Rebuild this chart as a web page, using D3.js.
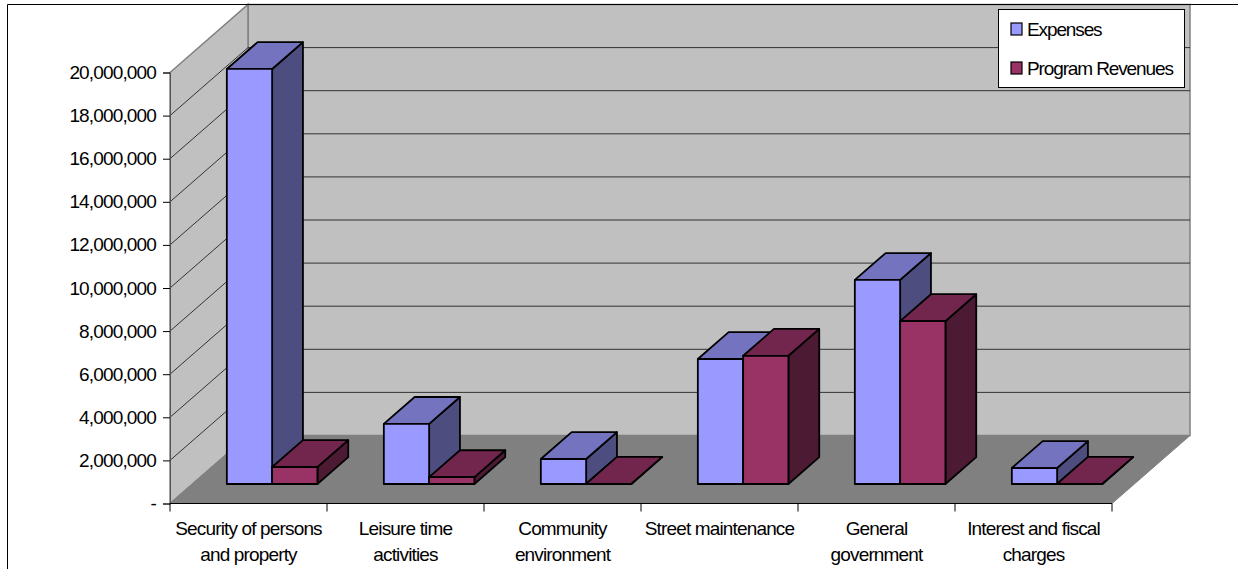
<!DOCTYPE html>
<html>
<head>
<meta charset="utf-8">
<script src="https://cdn.jsdelivr.net/npm/d3@7/dist/d3.min.js"></script>
<style>
html,body{margin:0;padding:0;background:#fff;}
svg{display:block;}
text{font-family:"Liberation Sans",Arial,sans-serif;font-size:19px;fill:#000;letter-spacing:-0.85px;}
.legend-label{letter-spacing:-1.12px;}
</style>
</head>
<body>
<svg id="chart" width="1238" height="569"></svg>
<script>
// Program cost against program revenue, by government function
const categories = [
  ["Security of persons", "and property"],
  ["Leisure time", "activities"],
  ["Community", "environment"],
  ["Street maintenance"],
  ["General", "government"],
  ["Interest and fiscal", "charges"]
];
const expenses = [19260000, 2790000, 1160000, 5800000, 9470000, 740000];
const programRevenues = [790000, 320000, 10000, 5950000, 7560000, 10000];
const seriesNames = ["Expenses", "Program Revenues"];
const yTicks = [0, 2e6, 4e6, 6e6, 8e6, 10e6, 12e6, 14e6, 16e6, 18e6, 20e6];

const frontColors = ["#9999ff", "#993366"];
const topColors = ["#7373bf", "#73264d"];
const sideColors = ["#4d4d80", "#4d1a33"];

const svg = d3.select("#chart");

const x = d3.scaleBand().domain(d3.range(categories.length)).range([170, 1112]);
const y = d3.scaleLinear().domain([0, 20e6]).range([503.5, 72.5]);
// Depth runs from the front of the floor (0) to the back wall (1)
const depthX = d3.scaleLinear().domain([0, 1]).range([0, 78]);
const depthY = d3.scaleLinear().domain([0, 1]).range([0, -68]);
const barInner = d3.scaleBand().domain([0, 1]).paddingOuter(0.733).paddingInner(0);
barInner.range([0, x.bandwidth()]);

// Projects (horizontal position, value, depth) onto the page
const px = (xPos, depth) => xPos + depthX(depth);
const py = (value, depth) => y(value) + depthY(depth);
const poly = pts => pts.map(p => p.join(",")).join(" ");

const x0 = x.range()[0], x1 = x.range()[1];
const yMax = yTicks[yTicks.length - 1];

// Walls and floor
svg.append("polygon")
  .attr("points", poly([[px(x0,1),py(yMax,1)],[px(x1,1),py(yMax,1)],[px(x1,1),py(0,1)],[px(x0,1),py(0,1)]]))
  .attr("fill", "#c0c0c0").attr("stroke", "#808080").attr("stroke-width", 1.5);
svg.append("polygon")
  .attr("points", poly([[px(x0,0),py(yMax,0)],[px(x0,1),py(yMax,1)],[px(x0,1),py(0,1)],[px(x0,0),py(0,0)]]))
  .attr("fill", "#c0c0c0").attr("stroke", "#808080").attr("stroke-width", 1.5);
svg.append("polygon")
  .attr("points", poly([[px(x0,0),py(0,0)],[px(x0,1),py(0,1)],[px(x1,1),py(0,1)],[px(x1,0),py(0,0)]]))
  .attr("fill", "#808080").attr("stroke", "#808080");

// Frame around the chart area
svg.append("path").attr("d", "M7.5,569V4.5H1238")
  .attr("fill", "none").attr("stroke", "#000").attr("stroke-width", 1);

// Gridlines across both walls
svg.append("g").selectAll("path").data(yTicks.filter(d => d > 0 && d < yMax)).join("path")
  .attr("d", d => `M${px(x0,0)},${py(d,0)}L${px(x0,1)},${py(d,1)}L${px(x1,1)},${py(d,1)}`)
  .attr("fill", "none").attr("stroke", "#333").attr("stroke-width", 1);

// Bars: one front face, one top and one side for each value
const depthFront = 0.285, depthBack = 0.68;
const seriesValues = [expenses, programRevenues];
categories.forEach((_, i) => {
  seriesValues.forEach((vals, s) => {
    const v = vals[i];
    const l = x(i) + barInner(s) + depthX(depthFront) + 1.4;
    const r = l + barInner.bandwidth();
    const g = svg.append("g").attr("stroke", "#000").attr("stroke-width", 1.8).attr("stroke-linejoin", "round");
    const base = py(0, 0) - 19.5, top = y(v) - 19.5;
    const dx = depthX(depthBack - depthFront), dy = depthY(depthBack - depthFront);
    g.append("polygon").attr("points", poly([[r,base],[r+dx,base+dy],[r+dx,top+dy],[r,top]])).attr("fill", sideColors[s]);
    g.append("polygon").attr("points", poly([[l,top],[l+dx,top+dy],[r+dx,top+dy],[r,top]])).attr("fill", topColors[s]);
    g.append("polygon").attr("points", poly([[l,base],[r,base],[r,top],[l,top]])).attr("fill", frontColors[s]);
  });
});

// Value axis
const yAxis = d3.axisLeft(y).tickValues(yTicks).tickSize(7).tickPadding(7)
  .tickFormat(d => d === 0 ? "-" : d3.format(",")(d));
const yG = svg.append("g").attr("transform", `translate(${x0},0)`).call(yAxis);
yG.select(".domain").attr("stroke", "#555");
yG.selectAll("text").style("font-size", "19px");

// Category axis with tick marks between the groups
const xG = svg.append("g");
xG.append("line").attr("x1", x0).attr("x2", x1).attr("y1", y(0)).attr("y2", y(0)).attr("stroke", "#000");
xG.selectAll("line.tick").data(d3.range(categories.length + 1)).join("line").attr("class", "tick")
  .attr("x1", i => x0 + i * x.bandwidth()).attr("x2", i => x0 + i * x.bandwidth())
  .attr("y1", y(0)).attr("y2", y(0) + 8).attr("stroke", "#000");
const labels = xG.selectAll("text").data(categories).join("text")
  .attr("text-anchor", "middle")
  .attr("transform", (d, i) => `translate(${x(i) + x.bandwidth() / 2},0)`);
labels.selectAll("tspan").data(d => d).join("tspan")
  .attr("x", 0).attr("y", (d, j) => 535 + j * 26).text(d => d);

// Legend
const legend = svg.append("g");
legend.append("rect").attr("x", 998.5).attr("y", 9.5).attr("width", 186).attr("height", 78)
  .attr("fill", "#fff").attr("stroke", "#000");
const items = legend.selectAll("g").data(seriesNames).join("g")
  .attr("transform", (d, i) => `translate(1011,${23 + i * 39})`);
items.append("rect").attr("width", 11).attr("height", 12)
  .attr("fill", (d, i) => frontColors[i]).attr("stroke", "#000").attr("stroke-width", 1.2);
items.append("text").attr("class", "legend-label").attr("x", 16).attr("y", 13).text(d => d);
</script>
</body>
</html>
